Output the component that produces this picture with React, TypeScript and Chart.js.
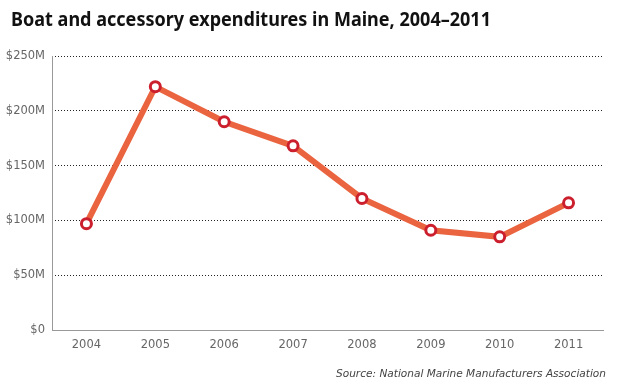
import React, { useEffect, useRef } from "react";
import { Chart, registerables } from "chart.js";

Chart.register(...registerables);

const years = ["2004", "2005", "2006", "2007", "2008", "2009", "2010", "2011"];
const expenditures = [97, 222, 190, 168, 120, 91, 85, 116];
const yTicks = [0, 50, 100, 150, 200, 250];
const titleText = "Boat and accessory expenditures in Maine, 2004\u20132011";
const sourceText = "Source: National Marine Manufacturers Association";

const textPlugin = {
  id: "texts",
  beforeDatasetsDraw(chart: any) {
    const ctx = chart.ctx;
    const a = chart.chartArea;
    ctx.save();
    ctx.strokeStyle = "#999";
    ctx.lineWidth = 1;
    ctx.setLineDash([]);
    ctx.beginPath();
    ctx.moveTo(a.left + 0.5, a.top);
    ctx.lineTo(a.left + 0.5, a.bottom);
    ctx.stroke();
    ctx.restore();
  },
  afterDraw(chart: any) {
    const ctx = chart.ctx;
    ctx.save();
    ctx.fillStyle = "#111";
    ctx.font = "bold 20px 'Noto Sans'";
    ctx.textBaseline = "middle";
    ctx.textAlign = "left";
    ctx.fillText(titleText, 11, 20, 480);
    ctx.fillStyle = "#444";
    ctx.font = "italic 11px 'DejaVu Sans'";
    ctx.textAlign = "right";
    ctx.fillText(sourceText, 606, 374, 270);
    ctx.restore();
  },
};

export default function App() {
  const ref = useRef<HTMLCanvasElement>(null);
  useEffect(() => {
    if (!ref.current) return;
    const chart = new Chart(ref.current, {
      type: "line",
      data: {
        labels: years,
        datasets: [
          {
            data: expenditures,
            borderColor: "#EB6440",
            borderWidth: 6,
            pointRadius: 5,
            pointBorderWidth: 3,
            pointBackgroundColor: "#ffffff",
            pointBorderColor: "#CC1F2D",
            tension: 0,
          },
        ],
      },
      options: {
        animation: false,
        responsive: false,
        maintainAspectRatio: false,
        layout: { padding: { left: 0, right: 21, top: 56, bottom: 0 } },
        plugins: { legend: { display: false }, tooltip: { enabled: false }, title: { display: false } },
        scales: {
          x: {
            offset: true,
            grid: { display: false, drawTicks: false },
            border: { display: true, color: "#999", width: 1 },
            ticks: { color: "#666", font: { family: "'DejaVu Sans'", size: 11.5 }, padding: 8 },
            afterFit: (s: any) => {
              s.height = 60;
            },
          },
          y: {
            min: 0,
            max: 250,
            afterBuildTicks: (s: any) => {
              s.ticks = yTicks.map((v) => ({ value: v }));
            },
            grid: {
              drawTicks: false,
              color: (c: any) => (c.tick && c.tick.value === 0 ? "rgba(0,0,0,0)" : "#222"),
              lineWidth: 1,
            },
            border: { display: false, dash: [1, 2] },
            ticks: {
              color: "#666",
              font: { family: "'DejaVu Sans'", size: 11.5 },
              padding: 7,
              callback: (v: any) => (v === 0 ? "$0" : "$" + v + "M"),
            },
            afterFit: (s: any) => {
              s.width = 52;
            },
          },
        },
      },
      plugins: [textPlugin],
    });
    return () => chart.destroy();
  }, []);
  return (
    <div style={{ position: "absolute", left: 0, top: 0, width: 624, height: 390, background: "#fff" }}>
      <canvas ref={ref} width={624} height={390} style={{ width: 624, height: 390, display: "block" }} />
    </div>
  );
}
